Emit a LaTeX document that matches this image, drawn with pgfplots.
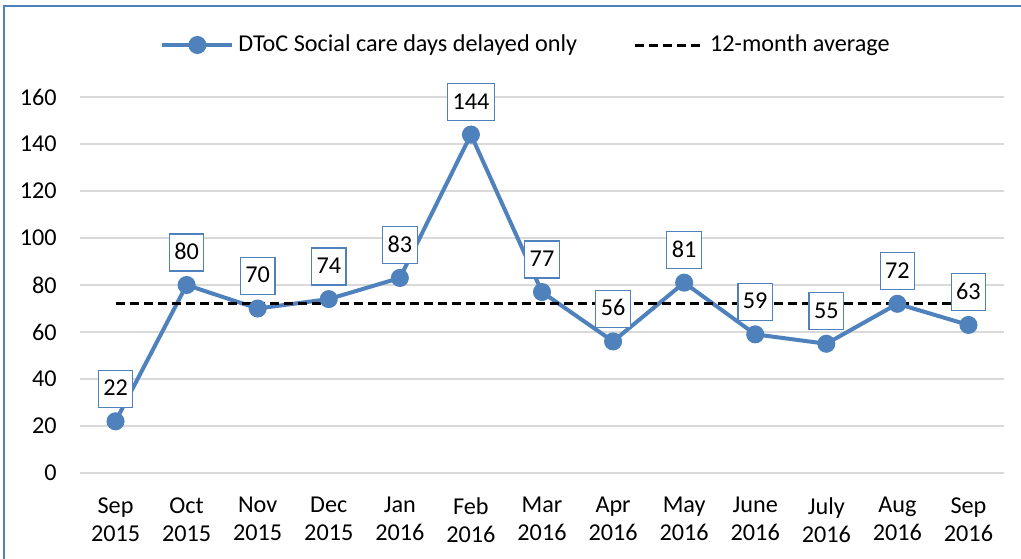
\documentclass[border=0pt]{standalone}
\usepackage{pgfplots}
\usepackage{pgfplotstable}
\pgfplotsset{compat=1.18}
\usepackage{fontspec}
\setmainfont{Carlito}
\definecolor{xlblue}{RGB}{79,129,189}
\definecolor{gridgray}{RGB}{217,217,217}
\pgfplotstableread{
x y
0 22
1 80
2 70
3 74
4 83
5 144
6 77
7 56
8 81
9 59
10 55
11 72
12 63
}\datatable
\pgfplotstableread{
x y
0 72
12 72
}\avgtable
\begin{document}
\fontsize{12.1pt}{14pt}\selectfont
\begin{tikzpicture}
\useasboundingbox (-40pt,-42.5pt) rectangle (470.5pt,236.5pt);
\draw[xlblue, line width=0.8pt] (-38pt,-50pt) -- (-38pt,233.5pt) -- (480pt,233.5pt);
\begin{axis}[
  at={(0pt,0pt)}, anchor=south west,
  scale only axis, width=462pt, height=188pt,
  xmin=-0.5, xmax=12.5, ymin=0, ymax=160,
  clip=false,
  axis line style={draw=none},
  tick style={draw=none},
  major tick length=0pt,
  ymajorgrids,
  grid style={gridgray, line width=0.75pt},
  ytick={0,20,...,160},
  xtick={0,...,12},
  xticklabels={{Sep\\2015},{Oct\\2015},{Nov\\2015},{Dec\\2015},{Jan\\2016},{Feb\\2016},{Mar\\2016},{Apr\\2016},{May\\2016},{June\\2016},{July\\2016},{Aug\\2016},{Sep\\2016}},
  /pgf/number format/assume math mode=true,
  yticklabel style={anchor=east, inner sep=0pt, xshift=-11.5pt},
  xticklabel style={anchor=north, align=center, inner sep=0pt, yshift=-12pt},
  legend style={draw=none, fill=none, at={(0.0866,1.1383)}, anchor=west,
    legend columns=2, inner xsep=0pt,
    /tikz/every even column/.append style={column sep=26pt}},
  legend image code/.code={\draw[mark repeat=2, mark phase=2, #1] plot coordinates {(0pt,0pt) (17.5pt,0pt) (35pt,0pt)};},
]
\addplot[xlblue, line width=2pt, mark=*, mark size=3.5pt, mark options={solid}] table[x=x,y=y] {\datatable};
\addlegendentry{DToC Social care days delayed only}
\addplot[black, line width=1.5pt, dash pattern=on 4.5pt off 2.5pt] table[x=x,y=y] {\avgtable};
\addlegendentry{12-month average}
\addplot[draw=none, mark=none, forget plot,
  nodes near coords,
  every node near coord/.append style={anchor=south, yshift=6.75pt, draw=xlblue, line width=0.6pt, fill=white, inner xsep=2.5pt, inner ysep=5.75pt, text height=7pt, text depth=0pt, text=black}
] table[x=x,y=y] {\datatable};
\end{axis}
\end{tikzpicture}
\end{document}
